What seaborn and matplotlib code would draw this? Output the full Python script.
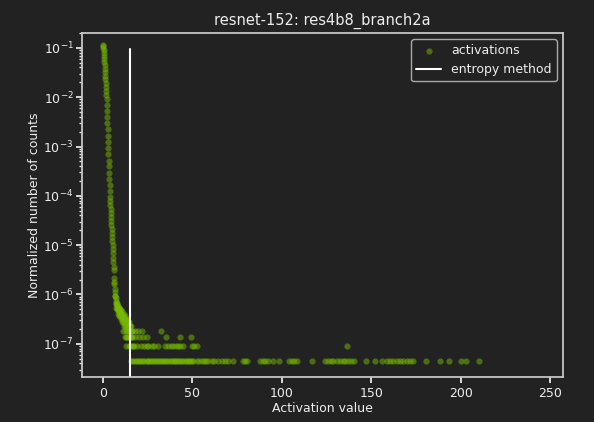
import numpy as np
import pandas as pd
import matplotlib
matplotlib.use("Agg")
import matplotlib.pyplot as plt
from matplotlib.ticker import NullFormatter
import seaborn as sns

# histogram bins (2048 bins over the activation range)
bin_width = 245.0 / 2048
total_counts = 2.21e7
threshold = 15.1
line_top = 0.095
y_ticks = [1e-7, 1e-6, 1e-5, 1e-4, 1e-3, 1e-2, 1e-1]

# normalized counts for the first bins (x = i * bin_width)
head_values = [
    1.17e-1, 1.10e-1, 1.00e-1, 8.9e-2, 7.9e-2, 6.9e-2, 6.0e-2, 5.2e-2,
    4.5e-2, 3.8e-2, 3.2e-2, 2.75e-2, 2.35e-2, 1.95e-2, 1.62e-2, 1.35e-2,
    1.12e-2, 9.3e-3, 7.1e-3, 5.2e-3, 4.0e-3, 2.95e-3, 2.24e-3, 1.66e-3,
    1.26e-3, 9.3e-4, 7.1e-4, 5.2e-4, 4.0e-4, 2.95e-4, 2.24e-4, 1.66e-4,
    1.26e-4, 9.3e-5, 7.8e-5, 6.5e-5, 5.4e-5, 4.5e-5, 3.7e-5, 3.1e-5,
    2.6e-5, 2.15e-5, 1.78e-5, 1.48e-5, 1.23e-5, 1.02e-5, 8.3e-6, 6.8e-6,
    5.5e-6, 4.5e-6, 3.6e-6, 3.2e-6, 2.2e-6, 1.8e-6, 1.6e-6, 1.3e-6,
    1.1e-6, 9.5e-7,
]

# raw counts for the noisy bins that follow (bins 58 .. 139)
mid_counts = [
    21, 15, 19, 14, 16, 12, 15, 13, 11, 14, 12, 10, 13, 11, 9, 12,
    10, 11, 8, 12, 9, 10, 8, 11, 9, 7, 10, 8, 9, 7, 8, 10,
    6, 9, 7, 8, 6, 4, 8, 7, 5, 9, 6, 3, 7, 5, 8, 4,
    6, 3, 7, 5, 2, 6, 4, 3, 7, 5, 4, 6, 3, 5, 4, 2,
    5, 3, 6, 4, 3, 5, 2, 4, 3, 1, 5, 3, 4, 2, 3, 1,
    4, 2,
]

# sparse tail: activation values of bins holding 1, 2, 3 or 4 counts
tail_x_1 = [
    17.4, 18.3, 19.1, 20.2, 21.0, 21.9, 22.6, 23.5, 24.4, 25.1,
    26.0, 26.8, 27.7, 28.5, 29.4, 30.3, 31.0, 31.9, 32.7, 33.6,
    34.4, 35.3, 36.1, 36.9, 37.8, 38.6, 39.5, 40.4, 41.1, 41.9,
    42.8, 43.7, 44.5, 45.4, 46.2, 47.0, 47.9, 48.8, 49.7, 50.4,
    52.4, 53.6, 55.2, 56.3, 57.7, 58.9, 60.8, 62.1, 64.5, 66.4,
    68.0, 70.1, 72.9, 78.1, 79.3, 80.4, 87.8, 89.4, 90.6, 92.4,
    95.2, 98.5, 104.2, 105.9, 107.1, 108.3, 116.7, 124.2, 125.6,
    127.4, 128.9, 130.7, 132.5, 134.0, 135.6, 137.2, 138.7, 140.5,
    146.9, 152.1, 155.9, 158.7, 160.4, 162.3, 164.2, 166.1, 168.0,
    169.8, 171.6, 173.5, 180.5, 188.5, 193.5, 200.2, 202.8, 210.3,
]
tail_x_2 = [
    17.5, 19.2, 21.3, 23.0, 24.4, 25.3, 27.2, 28.6, 30.9, 34.7,
    36.2, 37.9, 39.4, 40.8, 42.0, 43.1, 44.9, 49.6, 51.0, 52.4, 136.3,
]
tail_x_3 = [17.8, 20.1, 22.4, 24.6, 35.2, 43.1, 49.2]
tail_x_4 = [17.9, 19.6, 21.6, 32.4]

bg = "#222222"
fg = "#eeeeee"
green = "#76b900"

sns.set_theme(style="ticks", rc={
    "figure.facecolor": bg,
    "axes.facecolor": bg,
    "axes.edgecolor": "#cccccc",
    "axes.labelcolor": fg,
    "text.color": fg,
    "xtick.color": fg,
    "ytick.color": fg,
    "font.size": 9,
    "axes.labelsize": 9,
    "xtick.labelsize": 9,
    "ytick.labelsize": 9,
})
plt.rcParams["font.family"] = ["DejaVu Sans"]

head_x = np.arange(len(head_values)) * bin_width
mid_x = (np.arange(len(mid_counts)) + len(head_values)) * bin_width
xs = list(head_x) + list(mid_x)
ys = list(head_values) + [c / total_counts for c in mid_counts]
for n, arr in [(1, tail_x_1), (2, tail_x_2), (3, tail_x_3), (4, tail_x_4)]:
    xs += arr
    ys += [n / total_counts] * len(arr)
df = pd.DataFrame({"x": xs, "y": ys})

fig, ax = plt.subplots(figsize=(5.94, 4.22), dpi=100)
fig.subplots_adjust(left=0.138, right=0.948, top=0.922, bottom=0.107)
sns.scatterplot(data=df, x="x", y="y", color=green, alpha=0.5, s=20,
                linewidth=0, label="activations", ax=ax)
ax.plot([threshold, threshold], [1e-9, line_top], color="white", lw=1.5,
        label="entropy method")
ax.set_yscale("log")
ax.set_yticks(y_ticks)
ax.yaxis.set_minor_formatter(NullFormatter())
ax.set_xlim(-11.7, 257.3)
ax.set_ylim(2.14e-8, 0.201)
ax.tick_params(which="major", length=4, pad=3)
ax.tick_params(axis="y", which="major", pad=2)
ax.tick_params(which="minor", length=2)
ax.set_xlabel("Activation value", labelpad=2)
ax.set_ylabel("Normalized number of counts", labelpad=2)
ax.set_title("resnet-152: res4b8_branch2a", fontsize=10.5)
leg = ax.legend(loc="upper right", facecolor=bg, edgecolor="#cccccc", fontsize=9)
for t in leg.get_texts():
    t.set_color(fg)

plt.savefig("out.png", dpi=100, facecolor=bg)
